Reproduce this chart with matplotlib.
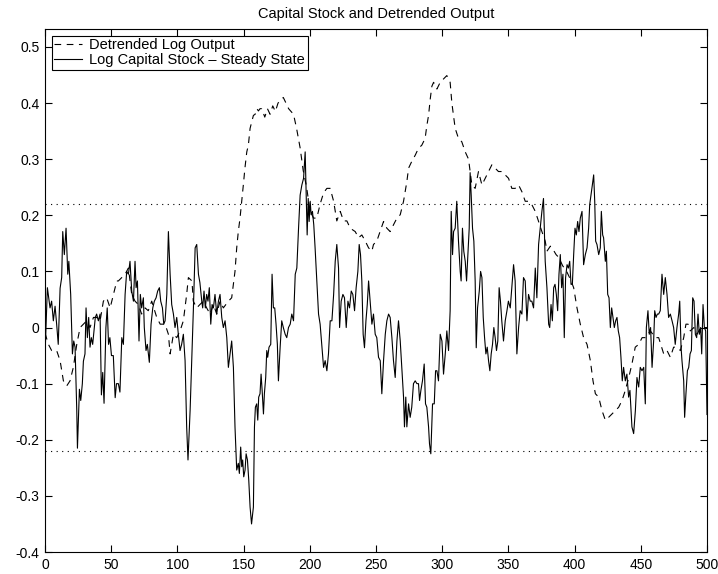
import matplotlib.pyplot as plt

plt.rcParams['font.family'] = ['Liberation Sans', 'DejaVu Sans']

# Log capital stock minus steady state (solid line)
t_capital = [0, 1.8, 3.8, 5, 6.3, 7.6, 8.8, 10, 11.4, 12.6, 13.4, 14.6, 15.9, 17.2, 18, 19.4,
             20.7, 21.7, 22.7, 24, 24.5, 26, 27, 28.2, 29, 30.2, 31, 32, 33, 34, 35, 36, 37.5,
             38, 39, 40.3, 41.6, 42.6, 43.6, 44.6, 46, 47, 48, 49, 50.2, 51.6, 53, 54, 55.4,
             56.6, 58, 59.2, 60.5, 61.7, 63, 64.2, 65.5, 66.8, 68, 68.8, 69.8, 71, 72, 73,
             74.3, 75, 76.3, 77.3, 78.8, 80.1, 81.4, 82.6, 83.9, 85.1, 86.4, 87.4, 88.7, 89.7,
             90.7, 92, 93.2, 94.5, 95.7, 97, 98.2, 99.5, 100.7, 102, 103.2, 104.5, 105.8, 107,
             108, 109.6, 110.8, 112.1, 113.4, 114.6, 115.9, 117, 118.4, 119.1, 120.1, 121.1,
             122.1, 123.1, 124.1, 125.2, 126.2, 127.2, 128.4, 129.7, 131, 132.2, 133.5, 134.7,
             136, 137.3, 138.5, 139.8, 141, 142.3, 143.5, 144.8, 146, 146.8, 147.8, 148.6,
             149.3, 150.1, 151.1, 151.9, 152.9, 153.9, 154.9, 156, 157.4, 158.2, 158.9, 159.9,
             160.7, 161.4, 162.4, 163.2, 164, 165, 165.7, 166.7, 167.5, 168.2, 169.2, 170.5,
             171.5, 172.5, 173.5, 174.5, 175.5, 176.3, 177.6, 178.8, 180, 181.4, 182.6, 183.9,
             185.2, 186.4, 187.7, 189, 190.2, 191.5, 192.7, 194, 195.3, 196.5, 197.3, 198,
             198.8, 199.5, 200.3, 201, 202, 203, 204, 205.3, 206.6, 207.8, 209, 210.4, 211.6,
             212.9, 214.1, 215.4, 216.7, 218, 219.2, 220.4, 221.7, 222.5, 223.7, 225, 226.2,
             227.5, 228.8, 230, 231.3, 232.5, 233.8, 235, 236.3, 237.3, 238.3, 239.3, 240.3,
             241.3, 242.4, 243.4, 244.4, 245.6, 246.9, 248.1, 249.4, 250.6, 251.9, 253.2,
             254.4, 255.7, 257, 258.2, 259.5, 260.7, 262, 263.2, 264.5, 265.8, 267, 268.3,
             269.5, 270.8, 271.5, 272.5, 273.3, 274.6, 275.8, 277, 278.3, 279.6, 280.9, 282.1,
             282.9, 283.9, 285.1, 286.4, 287.4, 288.4, 289.7, 290.4, 291.4, 292.7, 294, 295,
             296, 297.2, 298.5, 299.8, 301, 302.3, 303.5, 304.8, 306, 306.8, 307.8, 308.6,
             309.8, 311, 312.3, 313.6, 314.3, 315.3, 316.3, 317.4, 318.4, 319.4, 320.4, 321.1,
             321.9, 322.9, 323.9, 324.9, 325.7, 326.7, 328, 329, 330, 331, 332, 333, 334, 335,
             336, 337, 338, 339, 340, 341, 342, 343, 344, 345, 346.3, 347.6, 348.9, 350, 351.4,
             352.6, 353.9, 355.1, 356.4, 357.7, 358.9, 360.2, 361.4, 362.7, 364, 365.2, 366.5,
             367.7, 369, 370.3, 371.5, 372.8, 374, 375.3, 376.5, 377.8, 379.1, 380.4, 381.2,
             382.2, 383.2, 384.2, 385.2, 386.2, 387.2, 388.2, 389.2, 390.2, 391.2, 392.2, 393.2,
             394.3, 395.3, 396.3, 397.3, 398.3, 399.3, 400.3, 401.3, 402.3, 403.3, 404.3, 405.6,
             406.8, 408.1, 409.4, 410.6, 411.4, 412.4, 413.4, 414.4, 415.2, 415.9, 416.9, 418.2,
             419.4, 420.2, 421.2, 421.9, 423.2, 424, 425, 426, 427, 428, 429, 430, 431, 432,
             433, 434, 435, 436, 437, 438.3, 439.5, 440.8, 441.8, 443.3, 444.6, 445.9, 447.1,
             448.4, 449.6, 450.9, 452.2, 453.4, 454.2, 455.4, 456.4, 457.4, 458.5, 459.7, 460.5,
             461.5, 462.5, 463.5, 464.7, 466, 467.3, 468.5, 469.8, 471, 472.3, 473.6, 474.8,
             476, 477.3, 478.6, 479.4, 480.4, 481.1, 482.4, 483.1, 484.1, 485.2, 486.2, 487.2,
             488.2, 489.2, 490.2, 491.2, 492.2, 493.2, 494.2, 495.2, 496, 497, 498, 499, 500]
capital = [-0.05, 0.071, 0.035, 0.047, 0.012, 0.038, 0.006, -0.03, 0.07, 0.089, 0.171, 0.13,
           0.177, 0.095, 0.118, 0.059, -0.047, -0.024, -0.035, -0.148, -0.215, -0.11, -0.13,
           -0.1, -0.06, -0.047, 0.035, -0.018, 0.018, -0.035, -0.018, -0.03, 0.006, 0.018,
           0.024, 0.012, 0.024, -0.12, -0.08, -0.135, 0.0, 0.035, -0.03, -0.018, -0.05, -0.05,
           -0.125, -0.1, -0.1, -0.115, -0.018, -0.03, 0.059, 0.1, 0.095, 0.118, 0.065, 0.047,
           0.118, 0.071, 0.083, -0.024, 0.059, 0.035, 0.053, 0.0, -0.041, -0.03, -0.062, 0.006,
           0.035, 0.047, 0.053, 0.065, 0.071, 0.047, 0.035, 0.006, 0.012, 0.059, 0.171, 0.095,
           0.041, 0.024, 0.0, 0.018, -0.012, -0.041, -0.03, -0.012, -0.059, -0.177, -0.236,
           -0.148, -0.059, 0.035, 0.142, 0.148, 0.095, 0.08, 0.047, 0.035, 0.065, 0.035, 0.059,
           0.047, 0.071, 0.006, 0.041, 0.035, 0.059, 0.024, 0.047, 0.059, 0.018, 0.0, 0.012,
           -0.018, -0.071, -0.047, -0.024, -0.071, -0.177, -0.254, -0.242, -0.26, -0.213,
           -0.248, -0.236, -0.266, -0.254, -0.225, -0.236, -0.272, -0.32, -0.35, -0.32, -0.177,
           -0.142, -0.136, -0.165, -0.124, -0.118, -0.083, -0.112, -0.154, -0.118, -0.089,
           -0.041, -0.053, -0.035, -0.03, 0.095, 0.035, 0.035, 0.006, -0.03, -0.095, -0.035,
           0.012, 0.0, -0.012, -0.018, 0.0, 0.006, 0.024, 0.012, 0.095, 0.106, 0.177, 0.236,
           0.254, 0.266, 0.313, 0.236, 0.165, 0.23, 0.189, 0.225, 0.201, 0.207, 0.183, 0.142,
           0.083, 0.024, 0.006, -0.03, -0.071, -0.059, -0.077, -0.047, 0.012, 0.012, 0.059,
           0.118, 0.148, 0.106, 0.0, 0.047, 0.059, 0.053, 0.0, 0.047, 0.035, 0.065, 0.059,
           0.03, 0.071, 0.1, 0.148, 0.13, 0.083, -0.012, -0.036, 0.012, 0.041, 0.083, 0.047,
           0.006, 0.024, -0.012, -0.018, -0.053, -0.059, -0.118, -0.059, -0.012, 0.012, 0.024,
           0.018, -0.018, -0.059, -0.089, -0.024, 0.012, -0.024, -0.071, -0.124, -0.177,
           -0.124, -0.177, -0.136, -0.16, -0.142, -0.1, -0.095, -0.1, -0.1, -0.13, -0.112,
           -0.095, -0.065, -0.136, -0.142, -0.177, -0.207, -0.225, -0.136, -0.136, -0.077,
           -0.077, -0.095, -0.012, -0.024, -0.083, -0.047, -0.006, -0.041, 0.03, 0.207, 0.13,
           0.171, 0.177, 0.225, 0.154, 0.1, 0.083, 0.177, 0.136, 0.118, 0.083, 0.13, 0.177,
           0.276, 0.236, 0.177, 0.154, 0.083, -0.036, 0.035, 0.065, 0.1, 0.089, 0.018, -0.018,
           -0.047, -0.035, -0.059, -0.077, -0.047, -0.03, 0.0, -0.018, -0.041, -0.024, 0.071,
           0.047, 0.012, -0.024, 0.012, 0.03, 0.047, 0.035, 0.071, 0.112, 0.083, -0.047, 0.0,
           0.03, 0.024, 0.089, 0.083, 0.012, 0.059, 0.047, 0.047, 0.035, 0.106, 0.053, 0.148,
           0.177, 0.207, 0.23, 0.118, 0.071, 0.006, 0.0, 0.041, 0.012, 0.071, 0.077, 0.059,
           0.03, 0.095, 0.13, 0.071, 0.095, -0.018, 0.089, 0.112, 0.106, 0.118, 0.077, 0.077,
           0.13, 0.177, 0.165, 0.189, 0.171, 0.195, 0.207, 0.112, 0.13, 0.142, 0.177, 0.219,
           0.236, 0.254, 0.272, 0.225, 0.154, 0.148, 0.13, 0.142, 0.207, 0.165, 0.16, 0.118,
           0.136, 0.059, 0.053, 0.0, 0.035, 0.018, 0.0, 0.012, 0.018, -0.006, -0.018, -0.053,
           -0.095, -0.071, -0.095, -0.083, -0.124, -0.112, -0.177, -0.189, -0.148, -0.089,
           -0.106, -0.071, -0.077, -0.071, -0.136, 0.0, 0.03, -0.012, 0.0, -0.071, -0.024,
           0.03, 0.018, 0.024, 0.024, 0.03, 0.095, 0.059, 0.089, 0.059, 0.018, 0.024, 0.012,
           0.0, -0.03, 0.0, 0.024, 0.047, -0.035, -0.059, -0.095, -0.16, -0.118, -0.077,
           -0.071, -0.047, -0.041, 0.053, 0.047, -0.012, -0.018, 0.024, -0.012, 0.0, -0.047,
           0.041, 0.0, -0.006, -0.155]

# Detrended log output (dashed line)
t_output = [0, 2.6, 5, 8.8, 11.4, 13.9, 16.4, 18.9, 21.4, 24, 26.5, 29, 31.5, 34, 36.6, 39,
            41.6, 44.1, 46.6, 49.2, 51.7, 54.2, 55.4, 58, 60.5, 63, 65.5, 68, 70.5, 73, 75.6,
            78, 80.6, 84.4, 87, 90.7, 93.2, 94.5, 97, 99.5, 102, 104.5, 107, 108.3, 111, 112,
            114.6, 117, 119.6, 122.1, 124.7, 127.2, 129.7, 132.2, 134.7, 138.5, 141, 143.5,
            144.8, 146, 147.3, 148.6, 149.8, 151, 152.4, 153.6, 154.9, 156.1, 157.4, 158.7,
            160, 161.2, 162.4, 163.7, 166, 168, 170, 172, 174, 176, 178, 180, 182, 184, 187.7,
            190, 192.7, 195, 197.6, 200, 202.8, 205.3, 207.8, 210.4, 212.9, 215.4, 218, 220.4,
            223, 225.5, 228, 230.5, 234.3, 236.8, 239.3, 241.9, 244.4, 246.9, 248.1, 250.6,
            253.1, 255.7, 258.2, 260.7, 263.2, 265.8, 268.3, 270.8, 273.3, 274.6, 277, 279.6,
            282, 284.6, 287.1, 288.4, 289.7, 291, 292.2, 293.5, 296, 298.5, 301, 303.5, 306,
            307.3, 308.5, 309.8, 312.3, 314.8, 317.4, 319.9, 322.4, 324.9, 327.4, 330, 332.5,
            335, 337.5, 340, 342.5, 345, 347.6, 350.1, 352.6, 355.1, 357.7, 360.2, 362.7,
            365.2, 367.7, 370.3, 372.8, 375.3, 377.8, 379.1, 381.7, 383.5, 386, 388, 391, 394,
            397, 399.3, 401.8, 404.3, 406.8, 409.4, 411.9, 413.9, 415.7, 418.2, 420.7, 423.2,
            425.7, 428.3, 430.8, 433.3, 435.8, 438.3, 440.8, 443.3, 445.8, 448.4, 451, 453.4,
            457.2, 461, 463.5, 467.3, 469.8, 472.3, 474.8, 477.3, 479.9, 482.4, 484.1, 485.7,
            487.4, 490, 492.5, 495, 497.5, 500]
output = [-0.01, -0.03, -0.041, -0.041, -0.059, -0.095, -0.104, -0.095, -0.071, -0.03, 0.0,
          0.006, 0.012, 0.0, 0.018, 0.018, 0.012, 0.047, 0.053, 0.035, 0.059, 0.083, 0.083,
          0.089, 0.095, 0.106, 0.059, 0.047, 0.041, 0.024, 0.035, 0.03, 0.047, 0.018, 0.006,
          0.006, -0.012, -0.047, -0.012, -0.018, -0.006, 0.012, 0.059, 0.089, 0.083, 0.047,
          0.035, 0.041, 0.047, 0.035, 0.024, 0.041, 0.024, 0.047, 0.035, 0.047, 0.053, 0.1,
          0.142, 0.171, 0.195, 0.225, 0.254, 0.284, 0.313, 0.325, 0.355, 0.366, 0.378, 0.38,
          0.39, 0.386, 0.39, 0.39, 0.375, 0.39, 0.38, 0.395, 0.385, 0.4, 0.405, 0.41, 0.4,
          0.39, 0.38, 0.355, 0.32, 0.28, 0.25, 0.21, 0.195, 0.195, 0.22, 0.24, 0.248, 0.248,
          0.225, 0.19, 0.207, 0.19, 0.19, 0.177, 0.171, 0.16, 0.165, 0.154, 0.142, 0.136,
          0.148, 0.154, 0.171, 0.189, 0.177, 0.171, 0.183, 0.195, 0.201, 0.225, 0.26, 0.284,
          0.296, 0.307, 0.319, 0.325, 0.337, 0.36, 0.378, 0.408, 0.43, 0.437, 0.425, 0.437,
          0.443, 0.449, 0.437, 0.4, 0.378, 0.355, 0.337, 0.331, 0.313, 0.3, 0.254, 0.248,
          0.278, 0.254, 0.266, 0.278, 0.29, 0.284, 0.278, 0.278, 0.272, 0.266, 0.248, 0.248,
          0.254, 0.242, 0.225, 0.225, 0.219, 0.207, 0.189, 0.171, 0.154, 0.136, 0.145, 0.14,
          0.13, 0.125, 0.11, 0.1, 0.085, 0.071, 0.035, 0.006, -0.018, -0.03, -0.059, -0.095,
          -0.118, -0.124, -0.148, -0.165, -0.16, -0.154, -0.148, -0.142, -0.13, -0.112, -0.09,
          -0.065, -0.035, -0.03, -0.018, -0.018, -0.006, -0.018, -0.018, -0.047, -0.041,
          -0.053, -0.035, -0.035, -0.041, -0.018, 0.006, 0.006, -0.006, 0.0, -0.012, 0.0, 0.0,
          0.0]

band = 0.22
x_ticks = [0, 50, 100, 150, 200, 250, 300, 350, 400, 450, 500]
y_ticks = [-0.4, -0.3, -0.2, -0.1, 0, 0.1, 0.2, 0.3, 0.4, 0.5]

fig = plt.figure(figsize=(7.18, 5.74), dpi=100)
ax = fig.add_axes([45 / 718, 1 - 552 / 574, (707 - 45) / 718, (552 - 29) / 574])

ax.plot(t_output, output, color='black', linewidth=0.8, linestyle=(0, (6, 5)),
        label='Detrended Log Output')
ax.plot(t_capital, capital, color='black', linewidth=0.8, label='Log Capital Stock \u2013 Steady State')
ax.axhline(band, color='black', linewidth=0.8, linestyle=(0, (1, 4)))
ax.axhline(-band, color='black', linewidth=0.8, linestyle=(0, (1, 4)))

ax.set_xlim(0, 500)
ax.set_ylim(-0.4, 0.532)
ax.set_xticks(x_ticks)
ax.set_yticks(y_ticks)
ax.set_yticklabels([f'{v:g}' for v in y_ticks])
ax.tick_params(direction='in', top=True, right=True, length=5, width=0.8, labelsize=10, pad=4)
for side in ax.spines.values():
    side.set_linewidth(0.8)

ax.set_title('Capital Stock and Detrended Output', fontsize=10.5, pad=8)
leg = ax.legend(loc='upper left', fontsize=10.5, fancybox=False, framealpha=1, edgecolor='black',
                borderaxespad=0.45, handlelength=1.9, borderpad=0.2, labelspacing=0.05,
                handletextpad=0.5)
leg.get_frame().set_linewidth(0.8)

plt.savefig('out.png', dpi=100)
plt.close()
